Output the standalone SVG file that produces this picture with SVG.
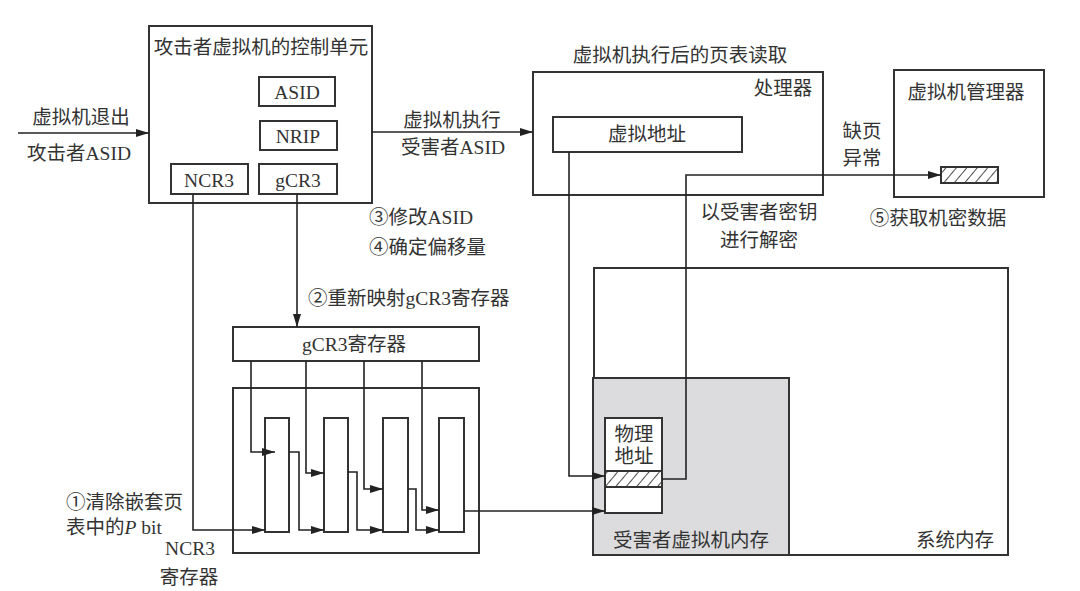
<svg xmlns="http://www.w3.org/2000/svg" width="1080" height="591" viewBox="0 0 1080 591">
<defs>
<marker id="ah" viewBox="0 0 13 8" refX="13" refY="4" markerWidth="13" markerHeight="8" markerUnits="userSpaceOnUse" orient="auto">
<path d="M0,0 L13,4 L0,8 Z" fill="#222"/>
</marker>
<pattern id="hatch" width="8" height="8" patternUnits="userSpaceOnUse" patternTransform="rotate(40)">
<rect width="8" height="8" fill="#fff"/>
<line x1="0" y1="0" x2="0" y2="8" stroke="#222" stroke-width="1.6"/>
</pattern>
<style>
.box{fill:#fff;stroke:#333;stroke-width:2}
.gray{fill:#dcdcde;stroke:#333;stroke-width:2}
.ln{fill:none;stroke:#222;stroke-width:1.6}
.arr{fill:none;stroke:#222;stroke-width:1.6;marker-end:url(#ah)}
text{font-family:"Liberation Serif","Noto Sans CJK SC",serif;font-size:19.5px;fill:#333;dominant-baseline:central;text-anchor:middle}
.l{text-anchor:start}
</style>
</defs>
<rect width="1080" height="591" fill="#fff"/>

<g id="sysmem">
<rect class="box" x="594" y="268" width="414" height="287"/>
<text x="955" y="540">系统内存</text>
</g>
<g id="victim-mem">
<rect class="gray" x="593" y="378" width="196" height="177"/>
<text x="691" y="540">受害者虚拟机内存</text>
</g>
<g id="phys-addr">
<rect class="box" x="605" y="418" width="57" height="95"/>
<rect x="605" y="471" width="57" height="16" fill="url(#hatch)" stroke="#333" stroke-width="2"/>
<text x="634" y="434">物理</text>
<text x="634" y="456">地址</text>
</g>

<g id="control-unit">
<rect class="box" x="149" y="26" width="223" height="177"/>
<text x="261" y="47">攻击者虚拟机的控制单元</text>
</g>
<g id="asid"><rect class="box" x="259" y="77" width="76" height="29"/><text x="297" y="92">ASID</text></g>
<g id="nrip"><rect class="box" x="260" y="121" width="77" height="29"/><text x="298" y="136">NRIP</text></g>
<g id="ncr3"><rect class="box" x="171" y="164" width="77" height="30"/><text x="209" y="180">NCR3</text></g>
<g id="gcr3"><rect class="box" x="259" y="164" width="78" height="30"/><text x="298" y="180">gCR3</text></g>

<g id="processor">
<rect class="box" x="533" y="72" width="290" height="123"/>
<text x="783" y="88">处理器</text>
</g>
<g id="vaddr"><rect class="box" x="553" y="117" width="189" height="35"/><text x="647" y="134">虚拟地址</text></g>

<g id="vmm">
<rect class="box" x="894" y="70" width="150" height="127"/>
<text x="966" y="92">虚拟机管理器</text>
<rect x="941" y="167" width="57" height="16" fill="url(#hatch)" stroke="#333" stroke-width="2"/>
</g>

<g id="gcr3-reg"><rect class="box" x="233" y="327" width="246" height="34"/><text x="354" y="344">gCR3寄存器</text></g>
<g id="nested-pt">
<rect class="box" x="233" y="388" width="246" height="165"/>
<rect class="box" x="265" y="418" width="24" height="114"/>
<rect class="box" x="324" y="418" width="24" height="114"/>
<rect class="box" x="383" y="418" width="25" height="114"/>
<rect class="box" x="439" y="418" width="25" height="114"/>
</g>

<g id="connectors">
<line class="arr" x1="18" y1="133" x2="149" y2="133"/>
<line class="arr" x1="372" y1="132" x2="533" y2="132"/>
<polyline class="arr" points="193,194 193,530 265,530"/>
<line class="arr" x1="297" y1="194" x2="297" y2="327"/>
<polyline class="arr" points="251,361 251,452 275,452"/>
<polyline class="arr" points="306,361 306,473 324,473"/>
<polyline class="arr" points="364,361 364,489 383,489"/>
<polyline class="arr" points="422,361 422,510 439,510"/>
<polyline class="arr" points="289,452 299,452 299,530 324,530"/>
<polyline class="arr" points="348,472 357,472 357,530 383,530"/>
<polyline class="arr" points="408,489 416,489 416,530 439,530"/>
<line class="arr" x1="464" y1="511" x2="605" y2="511"/>
<polyline class="arr" points="569,152 569,476 605,476"/>
<polyline class="arr" points="662,479 686,479 686,175 941,175"/>
</g>

<g id="labels">
<text x="81" y="117">虚拟机退出</text>
<text x="79" y="153">攻击者ASID</text>
<text x="452" y="120">虚拟机执行</text>
<text x="453" y="147">受害者ASID</text>
<text x="680" y="55">虚拟机执行后的页表读取</text>
<text x="862" y="131">缺页</text>
<text x="862" y="158">异常</text>
<text x="938" y="218">⑤获取机密数据</text>
<text x="759" y="212">以受害者密钥</text>
<text x="759" y="240">进行解密</text>
<text class="l" x="369" y="217">③修改ASID</text>
<text class="l" x="369" y="247">④确定偏移量</text>
<text class="l" x="308" y="298">②重新映射gCR3寄存器</text>
<text class="l" x="66" y="502">①清除嵌套页</text>
<text class="l" x="66" y="527">表中的<tspan font-style="italic">P</tspan> bit</text>
<text x="190" y="548">NCR3</text>
<text x="189" y="577">寄存器</text>
</g>
</svg>
